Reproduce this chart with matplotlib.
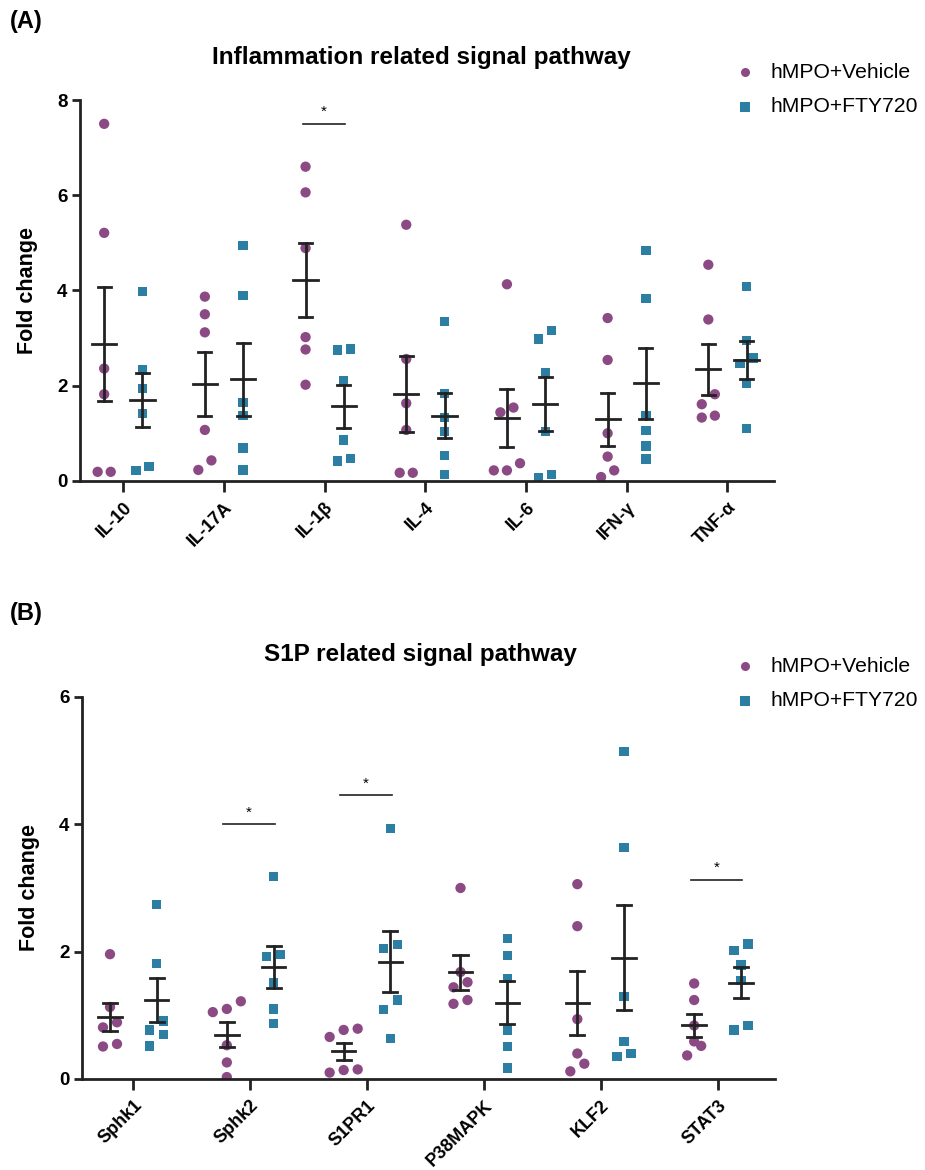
import numpy as np
import matplotlib
matplotlib.use('Agg')
import matplotlib.pyplot as plt

plt.rcParams['font.family'] = ['Liberation Sans', 'DejaVu Sans']

# panel A: inflammation related genes
genes_a = ['IL-10', 'IL-17A', 'IL-1β', 'IL-4', 'IL-6', 'IFN-γ', 'TNF-α']
veh_a = [
    [7.50, 5.21, 2.36, 1.82, 0.19, 0.19],
    [3.87, 3.50, 3.12, 1.07, 0.43, 0.23],
    [6.60, 6.06, 4.89, 3.02, 2.76, 2.02],
    [5.38, 2.56, 1.63, 1.07, 0.17, 0.17],
    [4.13, 1.54, 1.44, 0.37, 0.22, 0.22],
    [3.42, 2.54, 1.00, 0.51, 0.22, 0.08],
    [4.54, 3.39, 1.82, 1.61, 1.37, 1.33],
]
fty_a = [
    [3.98, 2.33, 1.94, 1.42, 0.30, 0.22],
    [4.95, 3.89, 1.65, 1.38, 0.69, 0.23],
    [2.75, 2.77, 2.11, 0.86, 0.47, 0.42],
    [3.35, 1.84, 1.33, 1.04, 0.53, 0.14],
    [3.16, 2.98, 2.27, 1.04, 0.14, 0.07],
    [4.84, 3.83, 1.38, 1.06, 0.73, 0.46],
    [4.08, 2.95, 2.58, 2.47, 2.04, 1.10],
]
sig_a = [(2, 7.5)]

# panel B: S1P related genes
genes_b = ['Sphk1', 'Sphk2', 'S1PR1', 'P38MAPK', 'KLF2', 'STAT3']
veh_b = [
    [1.96, 1.13, 0.89, 0.81, 0.55, 0.51],
    [1.22, 1.10, 1.05, 0.53, 0.26, 0.03],
    [0.79, 0.77, 0.66, 0.15, 0.14, 0.10],
    [3.00, 1.68, 1.52, 1.44, 1.24, 1.18],
    [3.06, 2.40, 0.94, 0.40, 0.24, 0.12],
    [1.50, 1.24, 0.84, 0.59, 0.52, 0.37],
]
fty_b = [
    [2.74, 1.81, 0.91, 0.77, 0.70, 0.52],
    [3.18, 1.96, 1.92, 1.52, 1.10, 0.87],
    [3.93, 2.11, 2.05, 1.24, 1.09, 0.64],
    [2.21, 1.94, 1.58, 0.77, 0.51, 0.17],
    [5.14, 3.64, 1.30, 0.59, 0.40, 0.35],
    [2.12, 2.02, 1.79, 1.55, 0.84, 0.77],
]
sig_b = [(1, 4.0), (2, 4.46), (5, 3.13)]

purple = '#8c4a84'
blue = '#2c7ea3'


def spread(vals, step, tol):
    # put points with close y values side by side, like Prism scatter
    vals = np.asarray(vals)
    xs = np.zeros(len(vals))
    order = np.argsort(vals)
    i = 0
    while i < len(order):
        j = i
        while j + 1 < len(order) and vals[order[j + 1]] - vals[order[i]] < tol:
            j += 1
        n = j - i + 1
        offs = (np.arange(n) - (n - 1) / 2) * step
        for k, idx in enumerate(order[i:j + 1]):
            xs[idx] = offs[k]
        i = j + 1
    return xs


def panel(ax, genes, veh, fty, sig, ymax, off, hw, cw, step, tol):
    for i in range(len(genes)):
        for vals, dx, col, mk, s in [(veh[i], -off, purple, 'o', 55),
                                     (fty[i], off, blue, 's', 45)]:
            v = np.array(vals)
            xs = i + dx + spread(v, step, tol)
            ax.scatter(xs, v, s=s, marker=mk, color=col, edgecolors='none', zorder=2)
            m = v.mean()
            se = v.std(ddof=1) / np.sqrt(len(v))
            ax.plot([i + dx - hw, i + dx + hw], [m, m], color='#222222', lw=2, zorder=3)
            ax.plot([i + dx, i + dx], [m - se, m + se], color='#222222', lw=2, zorder=3)
            for y in (m - se, m + se):
                ax.plot([i + dx - cw, i + dx + cw], [y, y], color='#222222', lw=2, zorder=3)
    for i, y in sig:
        ax.plot([i - off - 0.03, i + off + 0.01], [y, y], color='#222222', lw=1.2)
        ax.text(i - 0.01, y + ymax * 0.012, '*', ha='center', va='bottom', fontsize=11)

    ax.set_xticks(range(len(genes)))
    ax.set_xticklabels(genes, rotation=45, ha='right', rotation_mode='anchor',
                       fontsize=13, fontweight='bold')
    ax.set_ylim(0, ymax)
    ax.set_yticks(np.arange(0, ymax + 1, 2))
    for lab in ax.get_yticklabels():
        lab.set_fontweight('bold')
        lab.set_fontsize(13.5)
    ax.set_ylabel('Fold change', fontsize=15.5, fontweight='bold', labelpad=14)
    for sp in ['top', 'right']:
        ax.spines[sp].set_visible(False)
    for sp in ['left', 'bottom']:
        ax.spines[sp].set_linewidth(2)
        ax.spines[sp].set_color('#222222')
    ax.tick_params(axis='x', length=8, width=2, color='#222222', pad=5)
    ax.tick_params(axis='y', length=6, width=2, color='#222222', pad=3)
    ax.spines['left'].set_bounds(0, ymax)


fig = plt.figure(figsize=(9.25, 11.7), dpi=100)

ax1 = fig.add_axes([0.0865, 0.589, 0.750, 0.3255])
ax1.set_xlim(-0.43, 6.46)
panel(ax1, genes_a, veh_a, fty_a, sig_a, 8, 0.19, 0.12, 0.065, 0.13, 0.22)

ax2 = fig.add_axes([0.0886, 0.0778, 0.749, 0.3265])
ax2.set_xlim(-0.44, 5.49)
panel(ax2, genes_b, veh_b, fty_b, sig_b, 6, 0.2, 0.1, 0.06, 0.12, 0.2)

fig.text(0.011, 0.982, '(A)', fontsize=17, fontweight='bold', va='center')
fig.text(0.011, 0.476, '(B)', fontsize=17, fontweight='bold', va='center')
fig.text(0.455, 0.951, 'Inflammation related signal pathway', fontsize=17.5,
         fontweight='bold', ha='center', va='center')
fig.text(0.455, 0.441, 'S1P related signal pathway', fontsize=17.5,
         fontweight='bold', ha='center', va='center')

# legends
for ytop in [72, 666]:
    for k, (lab, col, mk) in enumerate([('hMPO+Vehicle', purple, 'o'),
                                        ('hMPO+FTY720', blue, 's')]):
        y = 1 - (ytop + 35 * k) / 1170
        fig.add_artist(plt.Line2D([745 / 925], [y], marker=mk, color=col, markersize=6.5,
                                  markeredgewidth=0, linestyle='none'))
        fig.text(770 / 925, y, lab, fontsize=15.2, va='center', ha='left')

fig.savefig('out.png', dpi=100)
